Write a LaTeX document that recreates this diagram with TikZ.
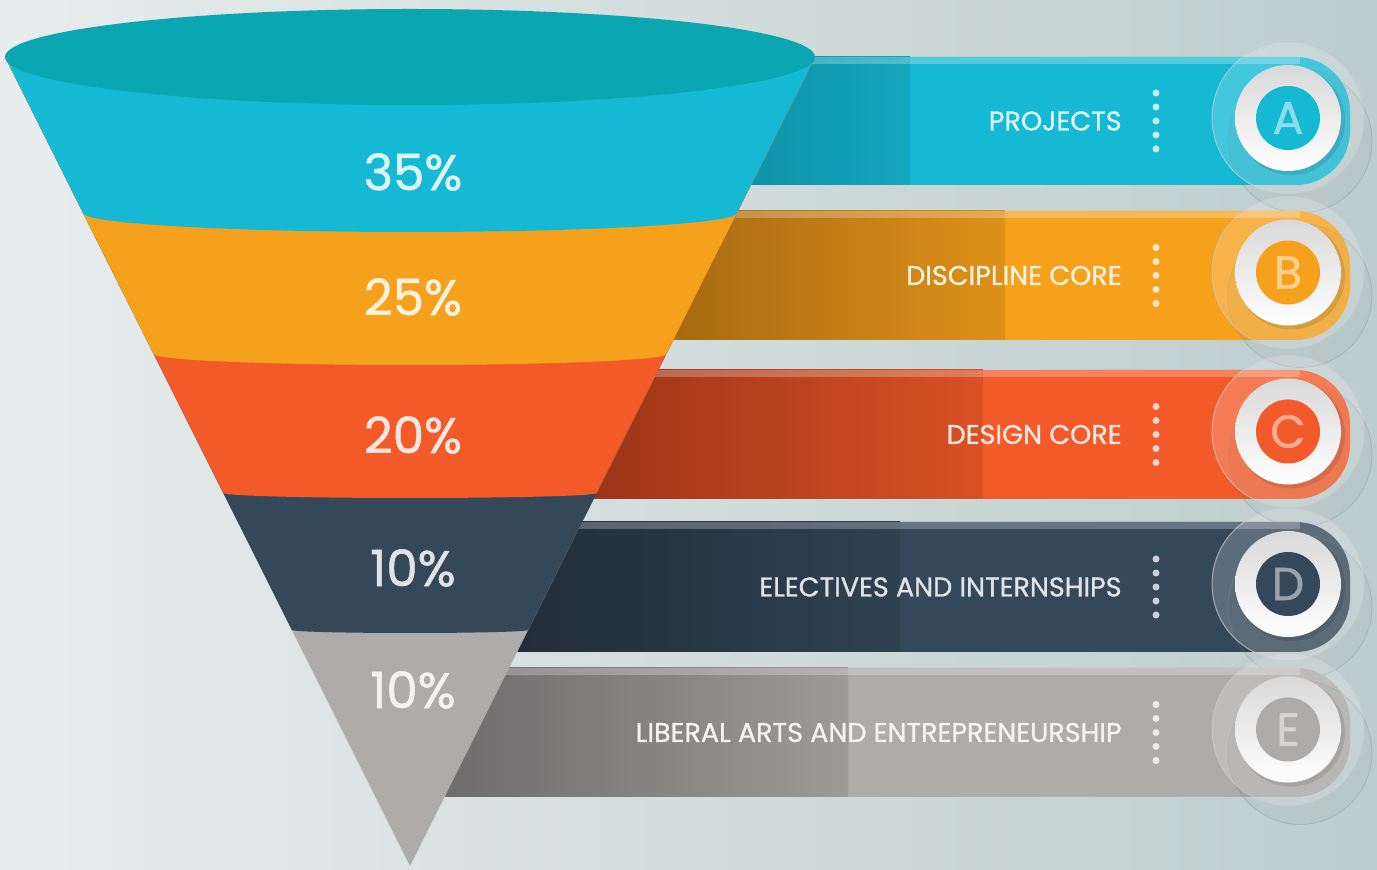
\documentclass[tikz,border=0pt]{standalone}
\usepackage{fontspec}
\setmainfont{Poppins}
\newfontfamily\medfont[FakeBold=1]{Poppins}
\usetikzlibrary{positioning}
\definecolor{bgL}{HTML}{E8ECEC}
\definecolor{bgR}{HTML}{BDCDCD}
\definecolor{capTop}{HTML}{0AA6B2}
\definecolor{colA}{HTML}{15B9D4}
\definecolor{darkA}{HTML}{0F93AA}
\definecolor{colB}{HTML}{F6A11C}
\definecolor{darkB}{HTML}{A86A12}
\definecolor{colC}{HTML}{F25A29}
\definecolor{darkC}{HTML}{9C3518}
\definecolor{colD}{HTML}{354859}
\definecolor{darkD}{HTML}{222E3A}
\definecolor{colE}{HTML}{AEACAA}
\definecolor{darkE}{HTML}{6E6C6C}
\tikzset{
  pct/.style={font=\medfont\fontsize{25}{30}\selectfont},
  lbl/.style={anchor=east, inner sep=0pt, font=\medfont\fontsize{13.5}{16}\selectfont},
  letter/.style={font=\medfont\fontsize{23}{27}\selectfont},
}

\begin{document}
\begin{tikzpicture}[x=0.5pt,y=-0.5pt]
  \shade[left color=bgL, right color=bgR] (0,0) rectangle (1377,870);
  \useasboundingbox (0,0) rectangle (1377,870);
  % bands behind the funnel
  \foreach \l/\ytop/\ybot/\xs/\xm/\txt in {A/57/185/751/910/PROJECTS,
          B/211/340/673/1005/DISCIPLINE CORE,
          C/370/499/594/983/DESIGN CORE,
          D/522/652/517/900/ELECTIVES AND INTERNSHIPS,
          E/668/797/445/848/LIBERAL ARTS AND ENTREPRENEURSHIP}
  {\pgfmathsetmacro\cy{(\ytop+\ybot)/2}
  \fill[col\l, rounded corners=27pt] (420,\ytop) rectangle (1350,\ybot);
  \shade[left color=dark\l, right color=col\l!90!black] (\xs,\ytop) rectangle (\xm,\ybot);
  \fill[white, opacity=.25] (420,\ytop) rectangle (1300,\ytop+7);
  \fill[black, opacity=.03] (1300,\cy+20) circle[radius=72];
  \draw[gray, opacity=.3, line width=.4pt] (1300,\cy+20) circle[radius=72];
  \fill[white, opacity=.2] (1288,\cy-3) circle[radius=76];
  \draw[white!60!gray, opacity=.7, line width=.5pt] (1288,\cy-3) circle[radius=76];
  \fill[black, opacity=.1] (1291,\cy) circle[radius=54];
  \shade[top color=gray!30, bottom color=white] (1288,\cy-3) circle[radius=53];
  \fill[col\l] (1288,\cy-3) circle[radius=32];
  \node[letter, text=white!50!col\l] (let\l) at (1288,\cy-3) {\l};
  \foreach \d in {-28,-14,0,14,28}
    \fill[white, opacity=.75] (1156,\cy+\d) circle[radius=3.5];
  \node[lbl, text=white!85!col\l] (txt\l) at (1122,\cy) {\txt};}
  % funnel
  \fill[colE] (5,57) -- (410,866) -- (815,57) -- cycle;
  \foreach \yb/\rx/\ry/\l in {630/118.2/3/D, 493/186.7/5/C,
          354/256.3/11/B, 213/326.9/19/A}
    \fill[col\l] (5,57) -- (410-\rx,\yb)
      arc[start angle=180, end angle=0, x radius=\rx, y radius=\ry]
      -- (815,57) -- cycle;
  \fill[capTop] (410,57) ellipse[x radius=405, y radius=48];
  \foreach \p/\y/\l/\n in {35/172/A/a, 25/297/B/b, 20/435/C/c,
          10/568/D/d, 10/690/E/e}
    \node[pct, text=white!85!col\l] (pct\n) at (413,\y) {\p\%};
\end{tikzpicture}
\end{document}
